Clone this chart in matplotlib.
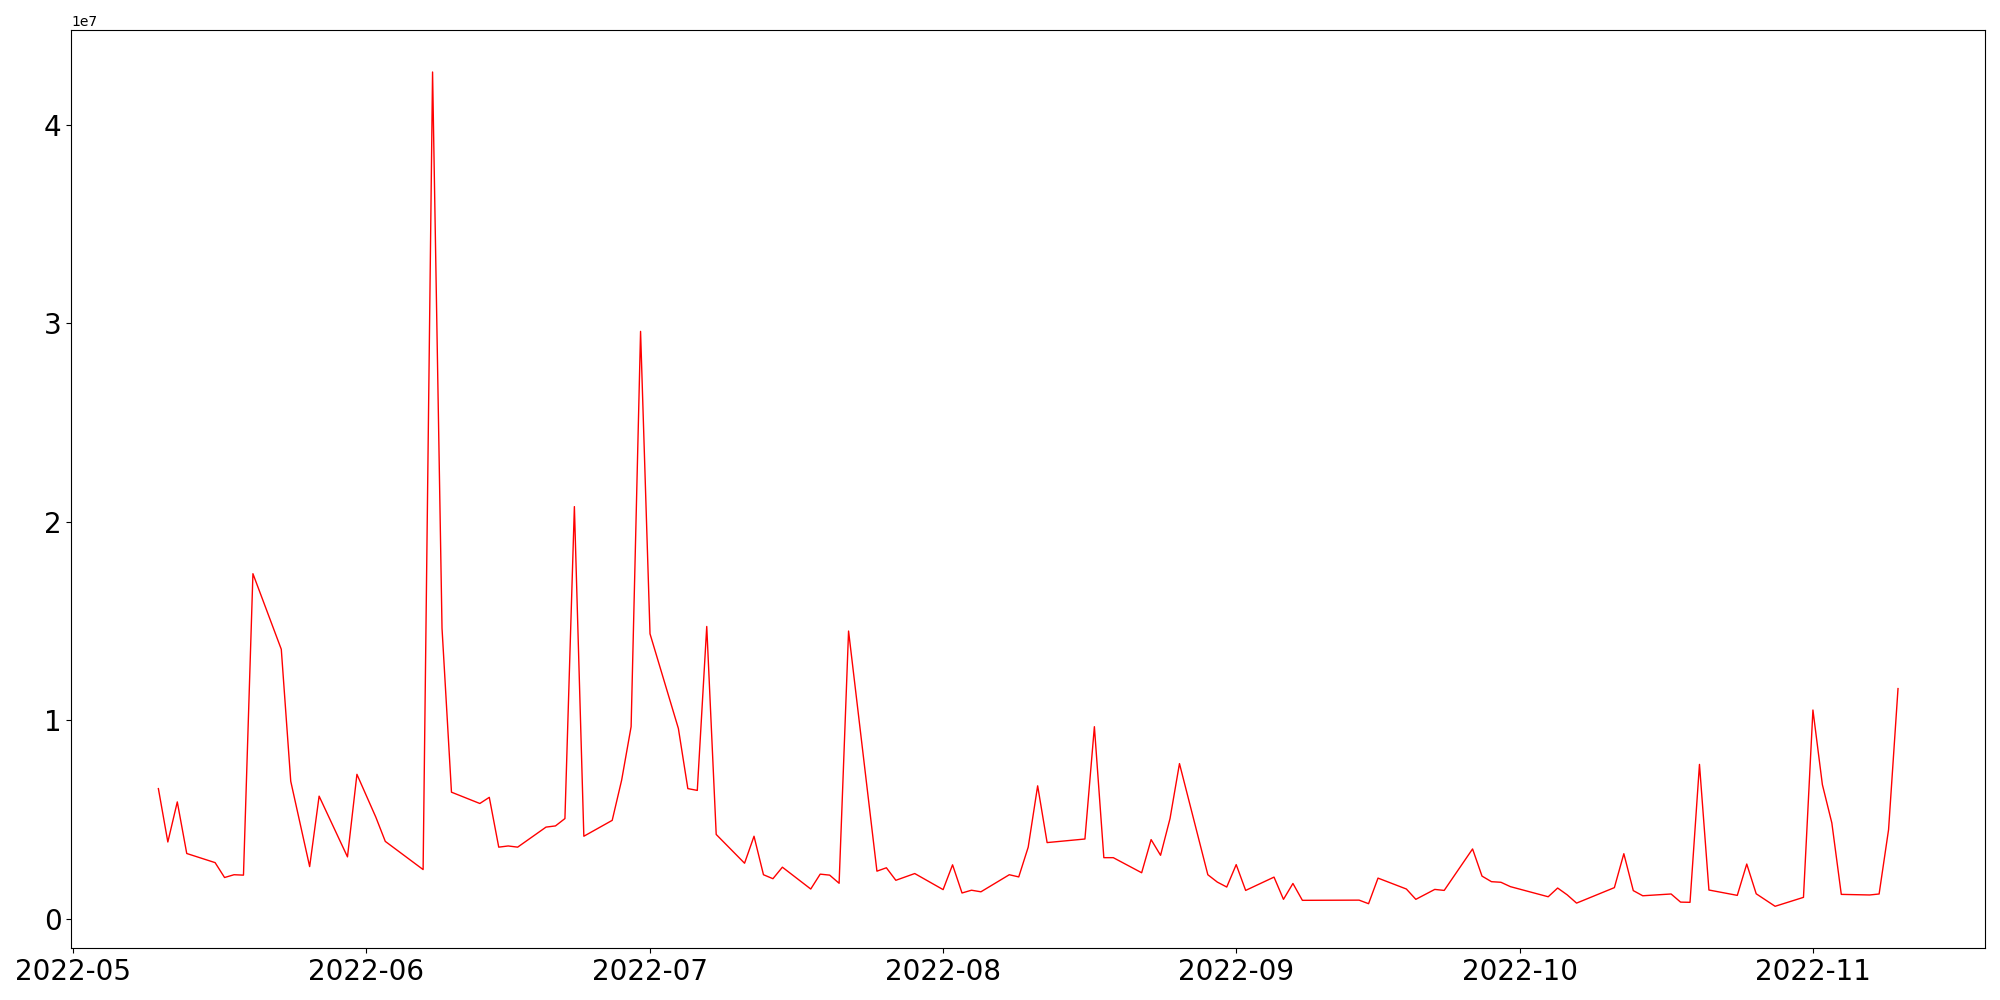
import matplotlib
matplotlib.use("Agg")
import matplotlib.pyplot as plt
import numpy as np
import pandas as pd

# trading days (values in units of 1e7)
dates = [
    "2022-05-10", "2022-05-11", "2022-05-12", "2022-05-13", "2022-05-16", "2022-05-17",
    "2022-05-18", "2022-05-19", "2022-05-20", "2022-05-23", "2022-05-24", "2022-05-26",
    "2022-05-27", "2022-05-30", "2022-05-31", "2022-06-02", "2022-06-03", "2022-06-07",
    "2022-06-08", "2022-06-09", "2022-06-10", "2022-06-13", "2022-06-14", "2022-06-15",
    "2022-06-16", "2022-06-17", "2022-06-20", "2022-06-21", "2022-06-22", "2022-06-23",
    "2022-06-24", "2022-06-27", "2022-06-28", "2022-06-29", "2022-06-30", "2022-07-01",
    "2022-07-04", "2022-07-05", "2022-07-06", "2022-07-07", "2022-07-08", "2022-07-11",
    "2022-07-12", "2022-07-13", "2022-07-14", "2022-07-15", "2022-07-18", "2022-07-19",
    "2022-07-20", "2022-07-21", "2022-07-22", "2022-07-25", "2022-07-26", "2022-07-27",
    "2022-07-29", "2022-08-01", "2022-08-02", "2022-08-03", "2022-08-04", "2022-08-05",
    "2022-08-08", "2022-08-09", "2022-08-10", "2022-08-11", "2022-08-12", "2022-08-16",
    "2022-08-17", "2022-08-18", "2022-08-19", "2022-08-22", "2022-08-23", "2022-08-24",
    "2022-08-25", "2022-08-26", "2022-08-29", "2022-08-30", "2022-08-31", "2022-09-01",
    "2022-09-02", "2022-09-05", "2022-09-06", "2022-09-07", "2022-09-08", "2022-09-14",
    "2022-09-15", "2022-09-16", "2022-09-19", "2022-09-20", "2022-09-22", "2022-09-23",
    "2022-09-26", "2022-09-27", "2022-09-28", "2022-09-29", "2022-09-30", "2022-10-04",
    "2022-10-05", "2022-10-06", "2022-10-07", "2022-10-11", "2022-10-12", "2022-10-13",
    "2022-10-14", "2022-10-17", "2022-10-18", "2022-10-19", "2022-10-20", "2022-10-21",
    "2022-10-24", "2022-10-25", "2022-10-26", "2022-10-28", "2022-10-31", "2022-11-01",
    "2022-11-02", "2022-11-03", "2022-11-04", "2022-11-07", "2022-11-08", "2022-11-09",
    "2022-11-10",
]
values_1e7 = [
    0.656, 0.387, 0.589, 0.329, 0.283, 0.208,
    0.222, 0.220, 1.739, 1.358, 0.693, 0.263,
    0.618, 0.312, 0.728, 0.512, 0.390, 0.248,
    4.267, 1.464, 0.638, 0.581, 0.612, 0.361,
    0.367, 0.361, 0.462, 0.468, 0.505, 2.077,
    0.416, 0.496, 0.699, 0.968, 2.960, 1.436,
    0.959, 0.656, 0.647, 1.473, 0.425, 0.280,
    0.416, 0.222, 0.202, 0.260, 0.150, 0.225,
    0.220, 0.179, 1.450, 0.240, 0.257, 0.194,
    0.228, 0.147, 0.272, 0.130, 0.144, 0.136,
    0.222, 0.211, 0.361, 0.670, 0.384, 0.402,
    0.968, 0.308, 0.308, 0.232, 0.399, 0.320,
    0.505, 0.782, 0.222, 0.185, 0.160, 0.273,
    0.143, 0.210, 0.098, 0.178, 0.093, 0.094,
    0.076, 0.205, 0.150, 0.098, 0.148, 0.143,
    0.352, 0.215, 0.187, 0.184, 0.162, 0.111,
    0.155, 0.121, 0.079, 0.157, 0.328, 0.142,
    0.116, 0.125, 0.084, 0.083, 0.778, 0.145,
    0.118, 0.276, 0.126, 0.063, 0.108, 1.052,
    0.676, 0.483, 0.123, 0.120, 0.125, 0.449,
    1.160,
]

x = pd.to_datetime(dates)
y = np.array(values_1e7) * 1e7

fig, ax = plt.subplots(figsize=(20, 10), dpi=100)
ax.plot(x, y, color='red', linewidth=1)

ax.tick_params(axis='both', labelsize=20)

fig.subplots_adjust(left=0.0357, right=0.9925, top=0.9697, bottom=0.052)
fig.savefig("out.png")
